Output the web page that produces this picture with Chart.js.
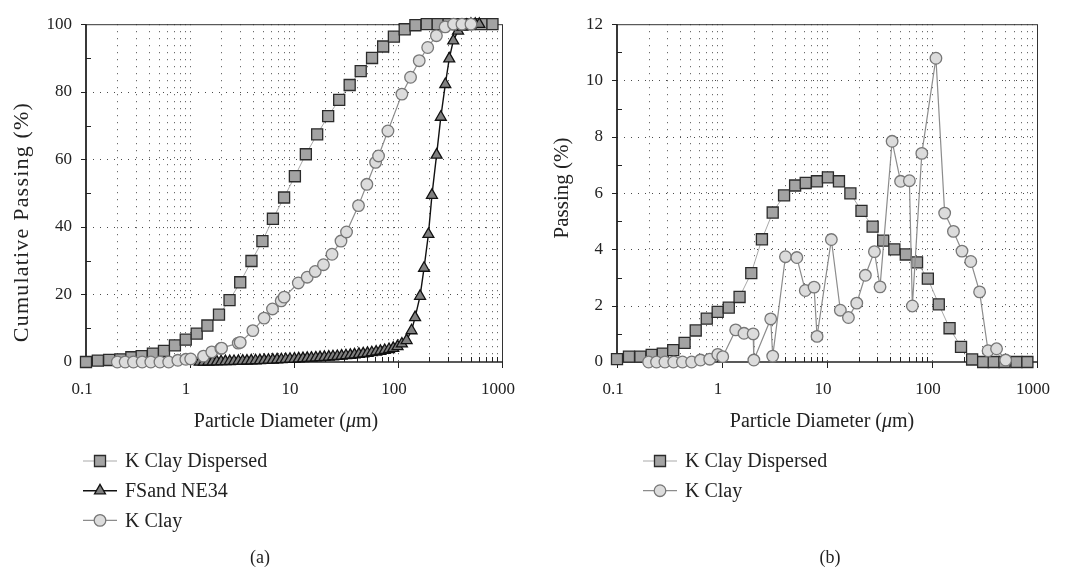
<!DOCTYPE html>
<html>
<head>
<meta charset="utf-8">
<script src="https://cdn.jsdelivr.net/npm/chart.js@4.4.0/dist/chart.umd.min.js"></script>
<style>
  body { margin: 0; background: #fff; }
  #wrap { position: relative; width: 1071px; height: 571px; }
  canvas { position: absolute; top: 0; }
</style>
</head>
<body>
<div id="wrap">
  <canvas id="chartA" width="540" height="571" style="left:0"></canvas>
  <canvas id="chartB" width="531" height="571" style="left:540px"></canvas>
</div>
<script>
// particle sizes (um) of each series
const dDispersed = [0.1, 0.13, 0.167, 0.214, 0.273, 0.343, 0.44, 0.562, 0.716, 0.91, 1.16, 1.47, 1.9, 2.4, 3.04, 3.9, 4.97, 6.27, 8.03, 10.2,
  13.0, 16.7, 21.3, 27.2, 34.3, 43.8, 56.3, 72, 91.3, 116, 147, 189, 241, 307, 387, 490, 637, 810];
const dClay = [0.2, 0.238, 0.286, 0.347, 0.42, 0.514, 0.624, 0.764, 0.912, 1.016, 1.35, 1.62, 1.98, 2.01, 2.91, 3.04, 4.02, 5.16, 6.21, 7.53,
  8.04, 11.0, 13.4, 16.0, 19.2, 23.2, 28.3, 32.0, 41.7, 50.2, 60.9, 65.0, 80, 109, 132, 160, 193, 234, 284, 342, 412, 503];
const dSand = [1.24, 1.36, 1.5, 1.65, 1.81, 1.99, 2.19, 2.41, 2.65, 2.92, 3.21, 3.53, 3.88, 4.27, 4.7, 5.17, 5.68, 6.25, 6.88, 7.56,
  8.32, 9.15, 10.1, 11.1, 12.2, 13.4, 14.7, 16.2, 17.8, 19.6, 21.6, 23.7, 26.1, 28.7, 31.6, 34.8, 38.2, 42.1, 46.3, 50.9,
  56, 61.6, 67.7, 74.5, 82, 90, 99, 109, 121, 135, 146, 163, 178, 196, 212, 235, 258, 285, 311, 340, 378, 416, 458, 503, 553, 605];

// (a) cumulative passing (%)
const cumDispersed = [0, 0.4, 0.6, 0.8, 1.4, 1.75, 2.5, 3.3, 4.9, 6.6, 8.4, 10.8, 14.0, 18.3, 23.6, 29.9, 35.8, 42.4, 48.7, 55.0,
  61.5, 67.4, 72.8, 77.6, 82.0, 86.1, 90.0, 93.4, 96.3, 98.5, 99.7, 100, 100, 100, 100, 100, 100, 100];
const cumSand = [0, 0.02, 0.05, 0.08, 0.1, 0.13, 0.16, 0.19, 0.22, 0.26, 0.3, 0.34, 0.38, 0.42, 0.47, 0.52, 0.57, 0.62, 0.68, 0.74,
  0.8, 0.86, 0.92, 0.98, 1.05, 1.12, 1.19, 1.26, 1.34, 1.42, 1.5, 1.6, 1.7, 1.8, 1.92, 2.04, 2.17, 2.31, 2.46, 2.62,
  2.8, 3.0, 3.22, 3.46, 3.75, 4.1, 4.6, 5.4, 6.4, 9.3, 13.2, 19.5, 27.8, 37.8, 49.4, 61.3, 72.5, 82.2, 89.8, 95.1, 98.0, 99.2, 99.7, 100, 100, 100];
const cumClay = [0, 0, 0, 0, 0, 0, 0, 0.5, 0.8, 0.9, 1.75, 3.0, 4.0, 4.1, 5.6, 5.8, 9.3, 13.0, 15.7, 18.1,
  19.2, 23.4, 25.1, 26.8, 28.8, 31.9, 35.8, 38.5, 46.3, 52.6, 59.1, 61.0, 68.4, 79.3, 84.3, 89.2, 93.1, 96.6, 99.2, 100, 100, 100];

// (b) passing (%)
const passDispersed = [0.1, 0.19, 0.19, 0.25, 0.3, 0.42, 0.68, 1.12, 1.54, 1.78, 1.93, 2.31, 3.16, 4.36, 5.31, 5.92, 6.27, 6.36, 6.42, 6.56,
  6.42, 5.99, 5.37, 4.81, 4.31, 4.0, 3.82, 3.54, 2.96, 2.05, 1.2, 0.54, 0.09, 0, 0, 0, 0, 0];
const passClay = [0, 0, 0, 0, 0, 0, 0.07, 0.1, 0.27, 0.19, 1.14, 1.02, 1.0, 0.07, 1.53, 0.21, 3.74, 3.71, 2.54, 2.66,
  0.91, 4.35, 1.84, 1.58, 2.09, 3.08, 3.92, 2.67, 7.84, 6.42, 6.44, 1.99, 7.41, 10.79, 5.29, 4.64, 3.94, 3.57, 2.49, 0.4, 0.47, 0.07];

// tick labels
const xTickLabels = [0.1, 1, 10, 100, 1000];
const yTicksA = [0, 20, 40, 60, 80, 100];
const yTicksB = [0, 2, 4, 6, 8, 10, 12];

const FONT = "'Liberation Serif', 'DejaVu Serif', serif";
const INK = '#222';

const sqStyle = { shape: 'rect', fill: '#a3a3a3', stroke: '#2b2b2b', line: '#a9a9a9', lineWidth: 1, r: 7.8 };
const triStyle = { shape: 'triangle', fill: '#808080', stroke: '#111', line: '#111', lineWidth: 1.4, r: 6.3 };
const cirStyle = { shape: 'circle', fill: '#dcdcdc', stroke: '#777', line: '#8c8c8c', lineWidth: 1.2, r: 5.8 };

function makeSet(label, xs, ys, st) {
  return {
    label: label,
    data: xs.map(function(x, i) { return { x: x, y: ys[i] }; }),
    showLine: true,
    borderColor: st.line,
    borderWidth: st.lineWidth,
    pointStyle: st.shape,
    pointRadius: st.r,
    pointHoverRadius: st.r,
    pointBackgroundColor: st.fill,
    pointBorderColor: st.stroke,
    pointBorderWidth: 1.3,
    tension: 0,
    clip: false
  };
}

function seg(ctx, x1, y1, x2, y2) {
  ctx.beginPath(); ctx.moveTo(x1, y1); ctx.lineTo(x2, y2); ctx.stroke();
}

function drawMarker(ctx, st, x, y) {
  ctx.save();
  ctx.fillStyle = st.fill; ctx.strokeStyle = st.stroke; ctx.lineWidth = 1.3;
  ctx.beginPath();
  if (st.shape === 'rect') {
    const h = st.r * Math.SQRT1_2;
    ctx.rect(x - h, y - h, 2 * h, 2 * h);
  } else if (st.shape === 'triangle') {
    ctx.moveTo(x, y - st.r);
    ctx.lineTo(x + st.r * 0.866, y + st.r * 0.5);
    ctx.lineTo(x - st.r * 0.866, y + st.r * 0.5);
    ctx.closePath();
  } else {
    ctx.arc(x, y, st.r, 0, Math.PI * 2);
  }
  ctx.fill(); ctx.stroke();
  ctx.restore();
}

// grid, ticks, frame, axis titles, legend and caption
function decor(cfg) {
  return {
    id: 'decor',
    beforeDatasetsDraw: function(chart) {
      const ctx = chart.ctx, a = chart.chartArea, xs = chart.scales.x, ys = chart.scales.y;
      ctx.save();
      ctx.strokeStyle = '#4a4a4a'; ctx.lineWidth = 1; ctx.setLineDash([1, 6]);
      const minorX = [];
      xTickLabels.slice(0, -1).forEach(function(dec) {
        for (let m = 1; m <= 9; m++) {
          const v = dec * m;
          const px = Math.round(xs.getPixelForValue(v)) + 0.5;
          if (m > 1) minorX.push(px);
          if (px <= a.left + 1) continue;
          seg(ctx, px, a.top, px, a.bottom);
        }
      });
      cfg.yTicks.slice(1, -1).forEach(function(v) {
        const py = Math.round(ys.getPixelForValue(v)) + 0.5;
        seg(ctx, a.left, py, a.right, py);
      });
      ctx.setLineDash([]);
      ctx.strokeStyle = INK; ctx.lineWidth = 1;
      // x ticks: decades outward, minor inward
      xTickLabels.forEach(function(v) {
        const px = Math.round(xs.getPixelForValue(v)) + 0.5;
        seg(ctx, px, a.bottom, px, a.bottom + 6);
      });
      minorX.forEach(function(px) { seg(ctx, px, a.bottom, px, a.bottom - 5); });
      // y ticks: labelled outward, half steps inward
      const step = cfg.yTicks[1] - cfg.yTicks[0];
      cfg.yTicks.forEach(function(v, i) {
        const py = Math.round(ys.getPixelForValue(v)) + 0.5;
        seg(ctx, a.left - 5, py, a.left, py);
        if (i > 0) {
          const pm = Math.round(ys.getPixelForValue(v - step / 2)) + 0.5;
          seg(ctx, a.left, pm, a.left + 5, pm);
        }
      });
      // frame
      ctx.strokeStyle = '#333'; ctx.lineWidth = 1;
      seg(ctx, a.left, a.top + 0.5, a.right, a.top + 0.5);
      seg(ctx, a.right + 0.5, a.top, a.right + 0.5, a.bottom);
      ctx.strokeStyle = INK; ctx.lineWidth = 1.8;
      seg(ctx, a.left, a.top, a.left, a.bottom + 1);
      ctx.lineWidth = 1.5;
      seg(ctx, a.left, a.bottom, a.right + 1, a.bottom);
      ctx.restore();
    },
    afterDraw: function(chart) {
      const ctx = chart.ctx, a = chart.chartArea;
      ctx.save();
      ctx.fillStyle = INK;
      ctx.textBaseline = 'middle';
      // y axis title
      ctx.save();
      ctx.translate(22, cfg.yTitleY);
      ctx.rotate(-Math.PI / 2);
      ctx.font = cfg.yTitleSize + 'px ' + FONT;
      ctx.textAlign = 'center';
      if ('letterSpacing' in ctx) ctx.letterSpacing = cfg.yTitleSpacing;
      ctx.fillText(cfg.yTitle, 0, 0);
      ctx.restore();
      // x axis title with italic mu
      const parts = [['Particle Diameter (', ''], ['\u03bc', 'italic '], ['m)', '']];
      let total = 0;
      parts.forEach(function(p) { ctx.font = p[1] + '20px ' + FONT; total += ctx.measureText(p[0]).width; });
      let x = (a.left + a.right) / 2 + cfg.titleShift - total / 2;
      parts.forEach(function(p) {
        ctx.font = p[1] + '20px ' + FONT;
        ctx.fillText(p[0], x, 422);
        x += ctx.measureText(p[0]).width;
      });
      // legend
      cfg.legend.forEach(function(item, i) {
        const y = 461 + i * 29.7;
        ctx.strokeStyle = item.st.line; ctx.lineWidth = item.st.lineWidth;
        seg(ctx, cfg.legX, y, cfg.legX + 34, y);
        drawMarker(ctx, item.st, cfg.legX + 17, y);
        ctx.fillStyle = INK;
        ctx.font = '20px ' + FONT;
        ctx.textAlign = 'left';
        ctx.fillText(item.label, cfg.legX + 42, y + 1);
      });
      // caption
      ctx.font = '18px ' + FONT;
      ctx.textAlign = 'center';
      ctx.fillText(cfg.caption, cfg.capX, 558);
      ctx.restore();
    }
  };
}

function makeOptions(yMax, yStep, axisWidth, padRight) {
  const tickFont = { family: FONT, size: 17 };
  return {
    responsive: false,
    animation: false,
    layout: { padding: { left: 0, top: 19, right: padRight, bottom: 139 } },
    plugins: { legend: { display: false }, tooltip: { enabled: false } },
    scales: {
      x: {
        type: 'logarithmic', min: 0.1, max: 1000,
        afterBuildTicks: function(scale) { scale.ticks = xTickLabels.map(function(v) { return { value: v }; }); },
        afterFit: function(scale) { scale.height = 70; },
        grid: { display: false, drawTicks: false },
        border: { display: false },
        ticks: {
          autoSkip: false, maxRotation: 0, padding: 17, labelOffset: -4, color: INK, font: tickFont,
          callback: function(v) { return String(v); }
        }
      },
      y: {
        min: 0, max: yMax,
        afterFit: function(scale) { scale.width = axisWidth; },
        grid: { display: false, drawTicks: false },
        border: { display: false },
        ticks: { stepSize: yStep, padding: 14, color: INK, font: tickFont }
      }
    }
  };
}

new Chart(document.getElementById('chartA'), {
  type: 'scatter',
  data: {
    datasets: [
      makeSet('K Clay', dClay, cumClay, cirStyle),
      makeSet('FSand NE34', dSand, cumSand, triStyle),
      makeSet('K Clay Dispersed', dDispersed, cumDispersed, sqStyle)
    ]
  },
  options: makeOptions(100, 20, 86, 38),
  plugins: [decor({
    yTicks: yTicksA, yTitle: 'Cumulative Passing (%)', yTitleY: 222, yTitleSize: 22, yTitleSpacing: '1.2px',
    titleShift: -8, legX: 83, capX: 260, caption: '(a)',
    legend: [
      { label: 'K Clay Dispersed', st: sqStyle },
      { label: 'FSand NE34', st: triStyle },
      { label: 'K Clay', st: cirStyle }
    ]
  })]
});

new Chart(document.getElementById('chartB'), {
  type: 'scatter',
  data: {
    datasets: [
      makeSet('K Clay', dClay, passClay, cirStyle),
      makeSet('K Clay Dispersed', dDispersed, passDispersed, sqStyle)
    ]
  },
  options: makeOptions(12, 2, 77, 25),
  plugins: [decor({
    yTicks: yTicksB, yTitle: 'Passing (%)', yTitleY: 188, yTitleSize: 21, yTitleSpacing: '0px',
    titleShift: -5, legX: 103, capX: 290, caption: '(b)',
    legend: [
      { label: 'K Clay Dispersed', st: sqStyle },
      { label: 'K Clay', st: cirStyle }
    ]
  })]
});
</script>
</body>
</html>
